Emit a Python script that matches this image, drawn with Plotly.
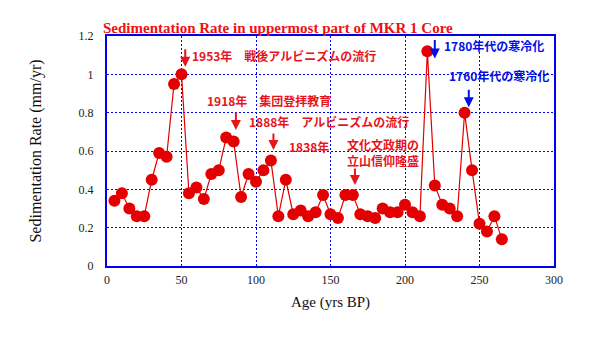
import plotly.graph_objects as go

# Age (years before present) and sedimentation rate (mm/yr) of the MKR 1 core
age_bp = [5, 10, 15, 20, 25, 30, 35, 40, 45, 50,
          55, 60, 65, 70, 75, 80, 85, 90, 95, 100,
          105, 110, 115, 120, 125, 130, 135, 140, 145, 150,
          155, 160, 165, 170, 175, 180, 185, 190, 195, 200,
          205, 210, 215, 220, 225, 230, 235, 240, 245, 250,
          255, 260, 265]
sed_rate = [0.34, 0.38, 0.30, 0.26, 0.26, 0.45, 0.59, 0.57, 0.95, 1.00,
            0.38, 0.41, 0.35, 0.48, 0.50, 0.67, 0.65, 0.36, 0.48, 0.44,
            0.50, 0.55, 0.26, 0.45, 0.27, 0.29, 0.26, 0.28, 0.37, 0.27,
            0.25, 0.37, 0.37, 0.27, 0.26, 0.25, 0.30, 0.28, 0.28, 0.32,
            0.28, 0.26, 1.12, 0.42, 0.32, 0.30, 0.26, 0.80, 0.50, 0.22,
            0.18, 0.26, 0.14]

x_ticks = [0, 50, 100, 150, 200, 250, 300]
y_ticks = [0, 0.2, 0.4, 0.6, 0.8, 1.0, 1.2]

RED = "#e8141c"
BLUE = "#0010e6"
AXIS_BLUE = "#0000ee"
SERIF = "Liberation Serif, Times New Roman, serif"
JP = "Noto Sans CJK JP, sans-serif"

fig = go.Figure()
fig.add_trace(go.Scatter(
    x=age_bp, y=sed_rate, mode="lines+markers",
    line=dict(color="#e00000", width=1.2),
    marker=dict(color="#e40000", size=12, line=dict(width=0)),
    showlegend=False, hoverinfo="x+y",
))

# Historical event labels (text, x, y, colour)
labels = [
    ("1953年　戦後アルビニズムの流行", 55.8, 1.097, RED),
    ("1918年　集団登拝教育", 65.9, 0.861, RED),
    ("1888年　アルビニズムの流行", 93.8, 0.753, RED),
    ("1838年", 120.8, 0.626, RED),
    ("文化文政期の<br>立山信仰隆盛", 159.7, 0.591, RED),
    ("1780年代の寒冷化", 224.5, 1.153, BLUE),
    ("1760年代の寒冷化", 228.5, 0.996, BLUE),
]
annotations = []
for text, x, y, col in labels:
    annotations.append(dict(
        x=x, y=y, xref="x", yref="y", text="<b>" + text + "</b>",
        showarrow=False, xanchor="left", yanchor="middle",
        font=dict(family=JP, size=12, color=col),
    ))

# Downward arrows marking each event (head x, head y, length px, colour)
arrows = [
    (52.5, 1.04, 19, RED),
    (86.5, 0.71, 19, RED),
    (111.7, 0.605, 18, RED),
    (166.4, 0.423, 18, RED),
    (220.0, 1.083, 20, BLUE),
    (242.8, 0.828, 19, BLUE),
]
for x, y, length, col in arrows:
    annotations.append(dict(
        x=x, y=y, xref="x", yref="y", text="",
        showarrow=True, ax=0, ay=-length, axref="pixel", ayref="pixel",
        arrowhead=2, arrowsize=1.0, arrowwidth=2, arrowcolor=col,
        standoff=0, startstandoff=0,
    ))

axis_common = dict(
    showline=True, mirror=True, linecolor=AXIS_BLUE, linewidth=2,
    showgrid=True, gridcolor="#0000ff", gridwidth=1, griddash="2px,2px",
    zeroline=False, ticks="",
    tickfont=dict(family=SERIF, size=12, color="#222222"),
)

fig.update_layout(
    width=615, height=345,
    margin=dict(l=107, r=61, t=36, b=79),
    paper_bgcolor="white", plot_bgcolor="white",
    title=dict(
        text="<b>Sedimentation Rate in uppermost part of MKR 1 Core</b>",
        x=103 / 615, xanchor="left", y=0.921, yanchor="middle",
        font=dict(family=SERIF, size=15, color="#f01010"),
    ),
    xaxis=dict(
        range=[0, 300], tickvals=x_ticks, ticktext=[str(v) for v in x_ticks],
        ticklabelstandoff=2,
        title=dict(text="Age (yrs BP)", standoff=10,
                   font=dict(family=SERIF, size=15, color="#111111")),
        **axis_common,
    ),
    yaxis=dict(
        range=[0, 1.2], tickvals=y_ticks,
        ticktext=["0", "0.2", "0.4", "0.6", "0.8", "1", "1.2"],
        ticklabelstandoff=9,
        title=dict(text="Sedimentation Rate (mm/yr)", standoff=33,
                   font=dict(family=SERIF, size=16, color="#111111")),
        **axis_common,
    ),
    annotations=annotations,
)

fig.write_html("out.html")
